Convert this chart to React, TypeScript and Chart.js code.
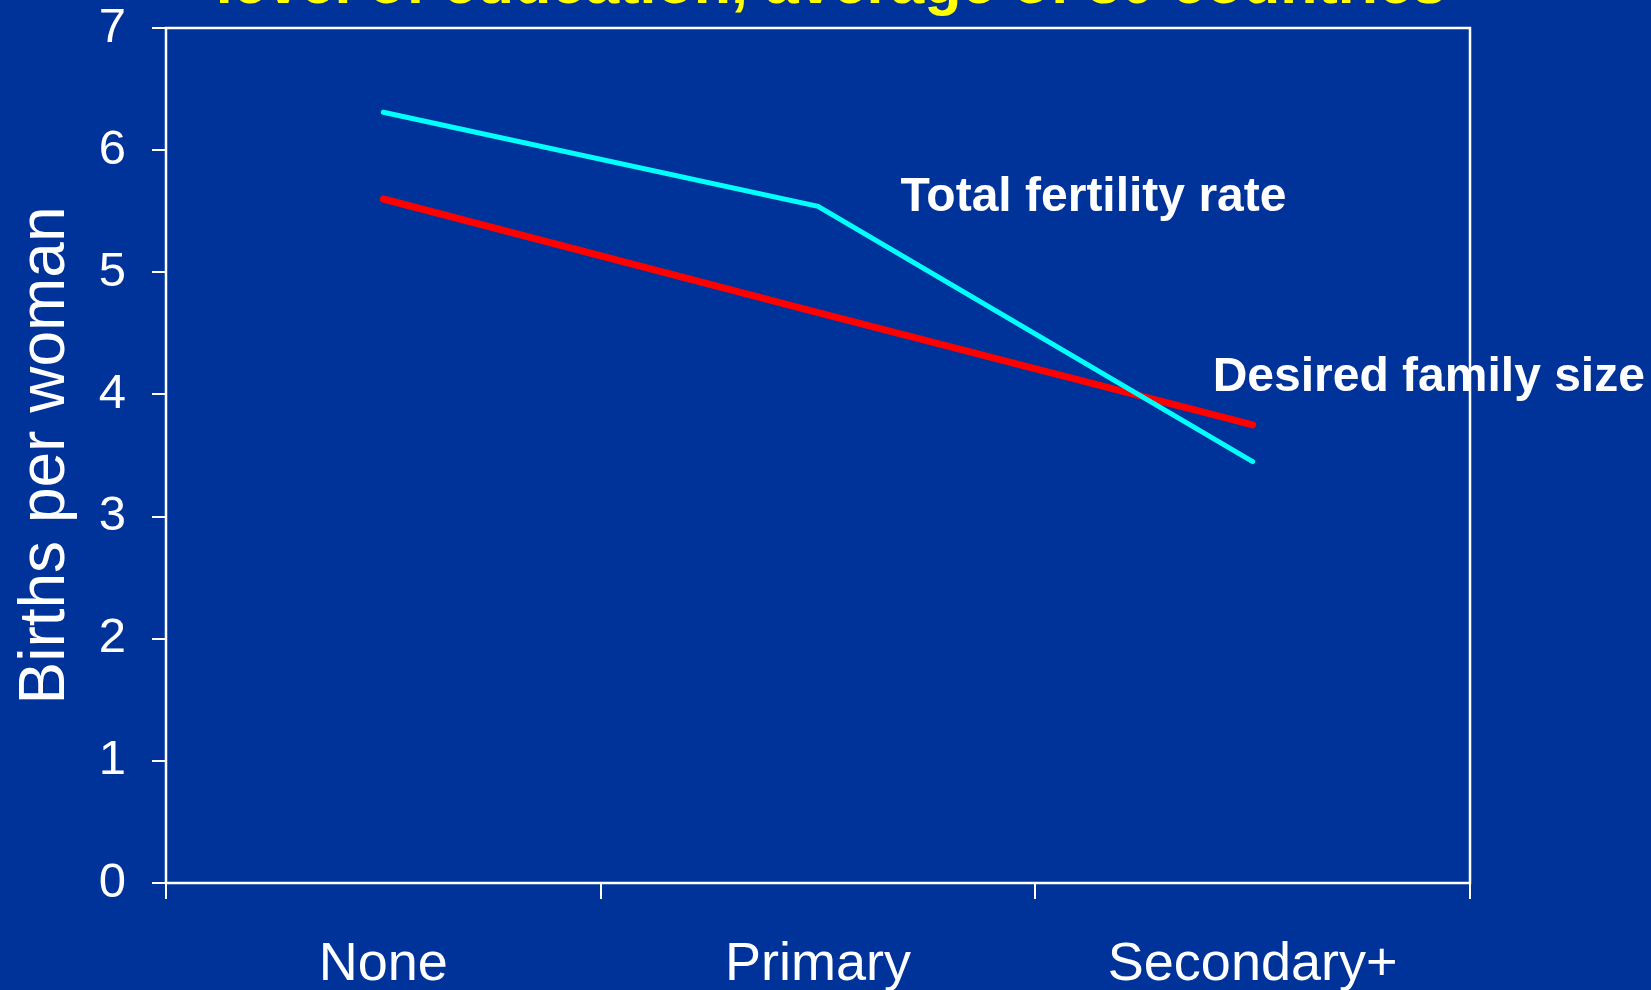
import React, { useEffect, useRef } from "react";
import { Chart, registerables } from "chart.js";

Chart.register(...registerables);

const categories = ["None", "Primary", "Secondary+"];
const totalFertility = [6.31, 5.54, 3.45];
const desiredFamily = [5.6, 4.67, 3.75];
const yTicks = [0, 1, 2, 3, 4, 5, 6, 7];
const seriesLabels = ["Total fertility rate", "Desired family size"];
const titleText = "level of education, average of 30 countries";

const BG = "#003399";
const FONT = "'Liberation Sans', Arial, sans-serif";

export default function App() {
  const ref = useRef<HTMLCanvasElement | null>(null);

  useEffect(() => {
    const canvas = ref.current;
    if (!canvas) return;

    const decor = {
      id: "decor",
      beforeDraw(chart: any) {
        const ctx = chart.ctx;
        ctx.save();
        ctx.fillStyle = BG;
        ctx.fillRect(0, 0, chart.width, chart.height);
        ctx.fillStyle = "#ffff00";
        ctx.font = `bold 61px ${FONT}`;
        ctx.textAlign = "center";
        ctx.textBaseline = "alphabetic";
        ctx.fillText(titleText, 831, 3);
        ctx.restore();
      },
      afterDatasetsDraw(chart: any) {
        const ctx = chart.ctx;
        const x = chart.scales.x;
        const y = chart.scales.y;
        ctx.save();
        ctx.fillStyle = "#ffffff";
        ctx.textAlign = "left";
        ctx.textBaseline = "alphabetic";
        ctx.font = `bold 48px ${FONT}`;
        ctx.fillText(seriesLabels[0], x.getPixelForValue(1.19), y.getPixelForValue(5.5));
        ctx.fillText(seriesLabels[1], x.getPixelForValue(1.908), y.getPixelForValue(4.03));
        const a = chart.chartArea;
        ctx.strokeStyle = "#ffffff";
        ctx.lineWidth = 2.5;
        ctx.strokeRect(a.left, a.top, a.right - a.left, a.bottom - a.top);
        ctx.restore();
      },
    };

    const chart = new Chart(canvas, {
      type: "line",
      data: {
        labels: categories,
        datasets: [
          {
            label: seriesLabels[0],
            data: totalFertility,
            borderColor: "#00ffff",
            borderWidth: 5,
            borderCapStyle: "round",
            pointRadius: 0,
            tension: 0,
          },
          {
            label: seriesLabels[1],
            data: desiredFamily,
            borderColor: "#ff0000",
            borderWidth: 7,
            borderCapStyle: "round",
            pointRadius: 0,
            tension: 0,
          },
        ],
      },
      options: {
        animation: false,
        responsive: false,
        events: [],
        layout: { padding: { top: 28, right: 181, left: 0, bottom: 0 } },
        plugins: {
          legend: { display: false },
          tooltip: { enabled: false },
          title: { display: false },
        },
        scales: {
          x: {
            offset: true,
            grid: {
              offset: true,
              drawOnChartArea: false,
              drawTicks: true,
              tickLength: 16,
              color: "#ffffff",
              lineWidth: 2,
            },
            border: { display: false },
            ticks: {
              color: "#ffffff",
              font: { family: FONT, size: 54 },
              padding: 34,
              maxRotation: 0,
              autoSkip: false,
            },
            afterFit(scale: any) {
              scale.height = 107;
              scale.paddingLeft = 0;
              scale.paddingRight = 0;
            },
          },
          y: {
            min: 0,
            max: 7,
            afterBuildTicks(scale: any) {
              scale.ticks = yTicks.map((v) => ({ value: v }));
            },
            grid: {
              drawOnChartArea: false,
              drawTicks: true,
              tickLength: 14,
              color: "#ffffff",
              lineWidth: 2,
            },
            border: { display: false },
            ticks: {
              color: "#ffffff",
              font: { family: FONT, size: 49 },
              padding: 26,
            },
            title: {
              display: true,
              text: "Births per woman",
              color: "#ffffff",
              font: { family: FONT, size: 64 },
              padding: { top: 8, bottom: 0 },
            },
            afterFit(scale: any) {
              scale.width = 166;
              scale.paddingTop = 0;
              scale.paddingBottom = 0;
            },
          },
        },
      },
      plugins: [decor],
    });

    return () => chart.destroy();
  }, []);

  return (
    <div
      style={{
        position: "fixed",
        left: 0,
        top: 0,
        width: 1651,
        height: 990,
        background: BG,
        overflow: "hidden",
      }}
    >
      <canvas ref={ref} width={1651} height={990} style={{ width: 1651, height: 990, display: "block" }} />
    </div>
  );
}
